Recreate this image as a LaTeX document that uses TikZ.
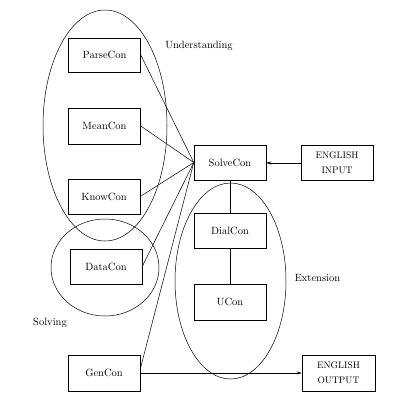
\documentclass[tikz,border=0pt]{standalone}
\usetikzlibrary{shapes.geometric,arrows.meta}
\begin{document}
\begin{tikzpicture}[x=1pt,y=-1pt,
  conbox/.style={draw,line width=0.5pt,minimum width=72pt,minimum height=35pt,inner sep=0pt,font=\fontsize{10.5}{12}\selectfont},
  iobox/.style={conbox,align=center,font=\fontsize{9.5}{15}\selectfont},
  group/.style={draw,ellipse,line width=0.5pt,inner sep=0pt},
  tag/.style={font=\fontsize{10.5}{12}\selectfont},
  link/.style={line width=0.5pt},
  flow/.style={line width=0.5pt,-{Stealth[length=5pt,width=3pt]}}]
\useasboundingbox (0,0) rectangle (420,407);
\node[group,minimum width=124pt,minimum height=231pt] (und) at (105,125.5) {};
\node[group,minimum width=108pt,minimum height=97pt] (sol) at (105,267.5) {};
\node[group,minimum width=111pt,minimum height=196pt] (ext) at (230.5,281) {};
\node[tag] (lund) at (199,46) {Understanding};
\node[tag] (lsol) at (50,323) {Solving};
\node[tag] (lext) at (317.5,278) {Extension};
\node[conbox,minimum height=34pt] (parse) at (104.5,55) {ParseCon};
\node[conbox,minimum height=36pt] (mean) at (104.5,126) {MeanCon};
\node[conbox] (know) at (104,196.5) {KnowCon};
\node[conbox] (data) at (106,266.5) {DataCon};
\node[conbox,minimum height=36pt] (gen) at (104,373) {GenCon};
\node[conbox] (solve) at (230,162.5) {SolveCon};
\node[iobox] (input) at (337,163) {ENGLISH\\INPUT};
\node[conbox] (dial) at (230,230.5) {DialCon};
\node[conbox,minimum height=36pt] (ucon) at (230,302) {UCon};
\node[iobox,minimum width=73pt,minimum height=36pt] (output) at (338.5,373) {ENGLISH\\OUTPUT};
\draw[link] (parse.east) -- (solve.west);
\draw[link] (mean.east) -- (solve.west);
\draw[link] (know.east) -- (solve.west);
\draw[link] (data.east) -- (solve.west);
\draw[link] ([yshift=4pt]gen.east) -- (solve.west);
\draw[link] (solve.south) -- (dial.north);
\draw[link] (dial.south) -- (ucon.north);
\draw[flow] (input.west) -- (input.west -| solve.east);
\draw[flow] (gen.east) -- (gen.east -| output.west);
\end{tikzpicture}
\end{document}
